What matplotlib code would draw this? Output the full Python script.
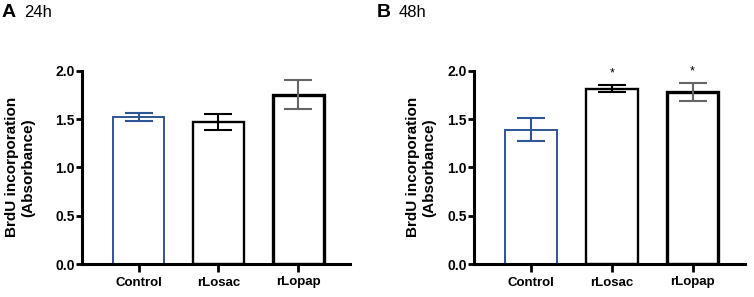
import matplotlib
matplotlib.use("Agg")
import matplotlib.pyplot as plt
import numpy as np

plt.rcParams['font.family'] = ['Liberation Sans', 'DejaVu Sans']

# data
groups = ["Control", "rLosac", "rLopap"]
mean_24h = [1.52, 1.47, 1.75]
err_24h = [0.045, 0.08, 0.15]
mean_48h = [1.39, 1.815, 1.78]
err_48h = [0.12, 0.04, 0.095]
signif_48h = ["", "*", "*"]

BLUE = "#2e5597"
edge_cols = [BLUE, "black", "black"]
edge_widths = [1.4, 1.7, 2.4]
err_cols = [BLUE, "black", "#666666"]


def draw_panel(ax, means, errs, label_x, stars=None):
    x = np.arange(len(groups))
    for i in range(len(groups)):
        ax.bar(x[i], means[i], width=0.64, facecolor="white",
               edgecolor=edge_cols[i], linewidth=edge_widths[i], zorder=2)
        ax.errorbar(x[i], means[i], yerr=errs[i], fmt="none",
                    ecolor=err_cols[i], elinewidth=1.5, capsize=10,
                    capthick=1.5, zorder=3)
        if stars and stars[i]:
            ax.annotate(stars[i], (x[i], means[i] + errs[i]),
                        xytext=(0, 4), textcoords="offset points",
                        ha="center", va="bottom", fontsize=9,
                        annotation_clip=False)
    ax.set_xlim(-0.71, 2.65)
    ax.set_ylim(0, 2.0)
    ax.set_yticks([0.0, 0.5, 1.0, 1.5, 2.0])
    ax.set_yticklabels([f"{v:.1f}" for v in [0.0, 0.5, 1.0, 1.5, 2.0]],
                       fontsize=10, fontweight="bold")
    ax.set_xticks(x)
    ax.set_xticklabels(groups, fontsize=9.5, fontweight="bold")
    ax.spines["top"].set_visible(False)
    ax.spines["right"].set_visible(False)
    ax.spines["left"].set_linewidth(2.2)
    ax.spines["bottom"].set_linewidth(2.2)
    ax.tick_params(axis="y", length=4, width=2, pad=1)
    ax.tick_params(axis="x", length=6, width=2, pad=3)
    ax.set_ylabel("BrdU incorporation\n(Absorbance)", fontsize=11,
                  fontweight="bold", linespacing=1.15)
    ax.yaxis.set_label_coords(label_x, 0.5)


fig = plt.figure(figsize=(7.54, 2.97), dpi=100)
W, H = 754.0, 297.0
axA = fig.add_axes([82 / W, 33 / H, 268 / W, 193.3 / H])
axB = fig.add_axes([474 / W, 33 / H, 271 / W, 193.3 / H])
draw_panel(axA, mean_24h, err_24h, -0.175)
draw_panel(axB, mean_48h, err_48h, -0.140, signif_48h)

fig.text(2 / W, 1 - 17 / H, "A", fontsize=14, fontweight="bold")
fig.text(24 / W, 1 - 17 / H, "24h", fontsize=12)
fig.text(377 / W, 1 - 17 / H, "B", fontsize=14, fontweight="bold")
fig.text(399 / W, 1 - 17 / H, "48h", fontsize=12)

fig.savefig("out.png", dpi=100)
